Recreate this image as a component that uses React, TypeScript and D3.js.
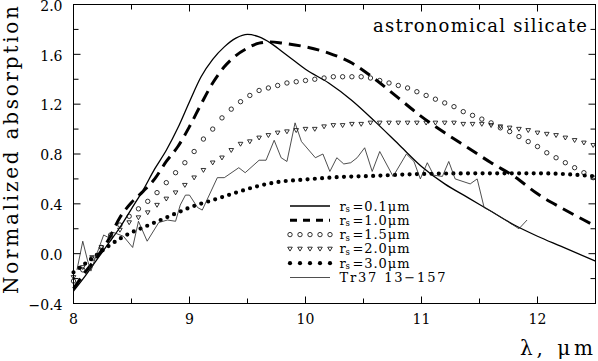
import React from "react";
import * as d3 from "d3";

// wavelength grid of the model markers (um)
const markerLambda = [
  8.0, 8.08, 8.16, 8.24, 8.32, 8.4, 8.48, 8.56, 8.64, 8.72, 8.8, 8.88, 8.96, 9.04, 9.12,
  9.2, 9.28, 9.36, 9.44, 9.52, 9.6, 9.68, 9.76, 9.84, 9.92, 10.0, 10.08, 10.16, 10.24,
  10.32, 10.4, 10.48, 10.56, 10.64, 10.72, 10.8, 10.88, 10.96, 11.04, 11.12, 11.2, 11.28,
  11.36, 11.44, 11.52, 11.6, 11.68, 11.76, 11.84, 11.92, 12.0, 12.08, 12.16, 12.24, 12.32,
  12.4, 12.48,
];

// rs = 1.5 um (open circles)
const r15 = [
  -0.22, -0.13, -0.04, 0.05, 0.15, 0.23, 0.3, 0.36, 0.42, 0.49, 0.57, 0.65, 0.73, 0.82,
  0.92, 1.0, 1.09, 1.16, 1.22, 1.27, 1.31, 1.33, 1.35, 1.37, 1.38, 1.39, 1.4, 1.41, 1.42,
  1.42, 1.42, 1.42, 1.41, 1.39, 1.37, 1.35, 1.33, 1.3, 1.27, 1.24, 1.21, 1.18, 1.14, 1.11,
  1.08, 1.05, 1.01, 0.98, 0.94, 0.9, 0.86, 0.81, 0.77, 0.73, 0.69, 0.65, 0.61,
];

// rs = 2.0 um (open triangles)
const r20 = [
  -0.19, -0.11, -0.03, 0.05, 0.12, 0.19, 0.25, 0.29, 0.33, 0.39, 0.44, 0.49, 0.55, 0.61,
  0.67, 0.73, 0.77, 0.83, 0.88, 0.9, 0.93, 0.95, 0.97, 0.98, 0.99, 1.0, 1.0, 1.02, 1.03,
  1.03, 1.04, 1.04, 1.05, 1.05, 1.05, 1.05, 1.05, 1.05, 1.05, 1.05, 1.05, 1.05, 1.04, 1.04,
  1.04, 1.03, 1.02, 1.01, 1.0, 0.99, 0.97, 0.96, 0.95, 0.93, 0.91, 0.89, 0.87,
];

// rs = 0.1 um (solid)
const r01Lambda = [
  8.0, 8.1, 8.2, 8.3, 8.4, 8.5, 8.6, 8.7, 8.8, 8.9, 9.0, 9.1, 9.2, 9.3, 9.4, 9.5, 9.6, 9.7,
  9.8, 9.9, 10.0, 10.2, 10.4, 10.6, 10.8, 11.0, 11.2, 11.4, 11.6, 11.8, 12.0, 12.2, 12.5,
];
const r01 = [
  -0.3, -0.18, -0.05, 0.08, 0.21, 0.36, 0.51, 0.68, 0.83, 1.01, 1.22, 1.42, 1.56, 1.66,
  1.73, 1.76, 1.74, 1.69, 1.62, 1.55, 1.48, 1.37, 1.23, 1.06, 0.88, 0.7, 0.56, 0.45, 0.34,
  0.23, 0.14, 0.06, -0.06,
];

// rs = 1.0 um (dashed)
const r10Lambda = [
  8.0, 8.1, 8.2, 8.3, 8.4, 8.5, 8.6, 8.7, 8.8, 8.9, 9.0, 9.1, 9.2, 9.3, 9.4, 9.5, 9.6, 9.7,
  9.8, 10.0, 10.2, 10.4, 10.6, 10.8, 11.0, 11.2, 11.4, 11.6, 11.8, 12.0, 12.2, 12.4, 12.5,
];
const r10 = [
  -0.28, -0.15, -0.03, 0.11, 0.29, 0.41, 0.5, 0.6, 0.74, 0.86, 1.02, 1.2, 1.37, 1.5, 1.59,
  1.65, 1.69, 1.7, 1.69, 1.66, 1.61, 1.53, 1.4, 1.25, 1.1, 0.97, 0.85, 0.73, 0.62, 0.48,
  0.37, 0.27, 0.22,
];

// rs = 3.0 um (dotted)
const r30Lambda = [
  8.0, 8.1, 8.2, 8.3, 8.4, 8.5, 8.6, 8.7, 8.8, 8.9, 9.0, 9.2, 9.4, 9.6, 9.8, 10.0, 10.2,
  10.6, 11.0, 11.5, 12.0, 12.3, 12.5,
];
const r30 = [
  -0.15, -0.08, -0.01, 0.06, 0.12, 0.17, 0.21, 0.25, 0.29, 0.33, 0.37, 0.43, 0.49, 0.545,
  0.58, 0.595, 0.61, 0.625, 0.64, 0.645, 0.645, 0.635, 0.62,
];

// Tr37 13-157 observed spectrum
const trLambda = [
  8.03, 8.08, 8.12, 8.15, 8.19, 8.26, 8.3, 8.345, 8.43, 8.51, 8.56, 8.635, 8.735, 8.81,
  8.88, 8.92, 8.965, 9.0, 9.07, 9.11, 9.24, 9.3, 9.425, 9.48, 9.6, 9.66, 9.73, 9.79, 9.84,
  9.91, 9.965, 10.085, 10.15, 10.21, 10.27, 10.33, 10.39, 10.445, 10.51, 10.575, 10.64,
  10.755, 10.87, 10.935, 10.99, 11.05, 11.105, 11.18, 11.235, 11.29, 11.42, 11.48, 11.54,
  11.62, 11.74, 11.84, 11.91,
];
const trValue = [
  -0.13, 0.1, -0.05, -0.14, -0.03, 0.15, 0.13, 0.17, 0.14, 0.05, 0.26, 0.1, 0.25, 0.27,
  0.26, 0.39, 0.47, 0.47, 0.37, 0.35, 0.61, 0.61, 0.69, 0.65, 0.75, 0.75, 0.91, 0.77, 0.74,
  1.05, 0.9, 0.77, 0.8, 0.66, 0.77, 0.72, 0.73, 0.77, 0.85, 0.66, 0.82, 0.62, 0.8, 0.74,
  0.6, 0.73, 0.63, 0.62, 0.74, 0.6, 0.56, 0.6, 0.37, 0.33, 0.26, 0.2, 0.27,
];

const xMajor = [8, 9, 10, 11, 12];
const yMajor = [-0.4, 0.0, 0.4, 0.8, 1.2, 1.6, 2.0];
const legendLabels = ["0.1", "1.0", "1.5", "2.0", "3.0"];

const W = 598;
const H = 361;
const FONT = "DejaVu Serif, Liberation Serif, serif";
const txt = { fontFamily: FONT };

const x = d3.scaleLinear().domain([8, 12.5]).range([73.5, 595.5]);
const y = d3.scaleLinear().domain([-0.4, 2.0]).range([303.5, 4.5]);

const zip = (xs: number[], ys: number[]) => xs.map((v, i) => [v, ys[i]] as [number, number]);

const smooth = d3
  .line<[number, number]>()
  .x((d) => x(d[0]))
  .y((d) => y(d[1]))
  .curve(d3.curveMonotoneX);
const jagged = d3
  .line<[number, number]>()
  .x((d) => x(d[0]))
  .y((d) => y(d[1]));

function Triangle({ cx, cy }: { cx: number; cy: number }) {
  const s = 2.3;
  return (
    <path
      d={`M${cx - s},${cy - s * 0.75}L${cx + s},${cy - s * 0.75}L${cx},${cy + s * 0.95}Z`}
      fill="none"
      stroke="#000"
      strokeWidth={0.8}
    />
  );
}

export default function App() {
  const xMinor = d3.range(8, 12.51, 0.5);
  const yMinor = d3.range(-0.4, 2.01, 0.2);
  const fmt = d3.format(".1f");
  const [x0, x1] = x.range();
  const [y0, y1] = y.range();

  const legendY = [206, 220.3, 234.6, 248.9, 263.2, 277.5];
  const lx0 = 290;
  const lx1 = 330;
  const legendDots = [0, 1, 2, 3, 4].map((i) => lx0 + i * 10);

  return (
    <svg
      width={W}
      height={H}
      style={{ position: "absolute", left: 0, top: 0, background: "#fff", fontFamily: FONT }}
    >
      {/* frame */}
      <rect x={x0} y={y1} width={x1 - x0} height={y0 - y1} fill="none" stroke="#000" strokeWidth={1} />

      {/* x ticks, bottom and top */}
      {xMinor.map((v) => {
        const major = Math.abs(v - Math.round(v)) < 1e-6;
        const len = major ? 7 : 5;
        return (
          <g key={"xt" + v}>
            <line x1={x(v)} x2={x(v)} y1={y0} y2={y0 - len} stroke="#000" />
            <line x1={x(v)} x2={x(v)} y1={y1} y2={y1 + len} stroke="#000" />
          </g>
        );
      })}
      {/* y ticks, left and right */}
      {yMinor.map((v) => {
        const major = yMajor.some((m) => Math.abs(m - v) < 1e-6);
        const len = major ? 7 : 5;
        return (
          <g key={"yt" + v}>
            <line x1={x0} x2={x0 + len} y1={y(v)} y2={y(v)} stroke="#000" />
            <line x1={x1} x2={x1 - len} y1={y(v)} y2={y(v)} stroke="#000" />
          </g>
        );
      })}

      {xMajor.map((v) => (
        <text key={"xl" + v} x={x(v)} y={324} fontSize={14} textAnchor="middle" style={txt}>
          {v}
        </text>
      ))}
      {yMajor.map((v) => (
        <text key={"yl" + v} x={62.5} y={y(v) + 6.2} fontSize={14} textAnchor="end" style={txt}>
          {fmt(v)}
        </text>
      ))}

      <text
        transform="translate(18,150) rotate(-90)"
        fontSize={20}
        textAnchor="middle"
        textLength={288}
        lengthAdjust="spacing"
        style={txt}
      >
        Normalized absorption
      </text>
      <text x={520} y={355} fontSize={20} textLength={73} lengthAdjust="spacing" style={txt}>
        λ, μm
      </text>
      <text x={373} y={31.7} fontSize={18} textLength={214} lengthAdjust="spacing" style={txt}>
        astronomical silicate
      </text>

      {/* model curves */}
      <path d={smooth(zip(r01Lambda, r01)) || ""} fill="none" stroke="#000" strokeWidth={1.3} />
      <path
        d={smooth(zip(r10Lambda, r10)) || ""}
        fill="none"
        stroke="#000"
        strokeWidth={3}
        strokeDasharray="12 7"
      />
      <path
        d={smooth(zip(r30Lambda, r30)) || ""}
        fill="none"
        stroke="#000"
        strokeWidth={4.2}
        strokeLinecap="round"
        strokeDasharray="0 7.3"
      />
      {markerLambda.map((l, i) => (
        <circle key={"c" + i} cx={x(l)} cy={y(r15[i])} r={2.2} fill="none" stroke="#000" strokeWidth={0.8} />
      ))}
      {markerLambda.map((l, i) => (
        <Triangle key={"t" + i} cx={x(l)} cy={y(r20[i])} />
      ))}
      <path d={jagged(zip(trLambda, trValue)) || ""} fill="none" stroke="#222" strokeWidth={0.8} />

      {/* legend */}
      <line x1={lx0} x2={lx1} y1={legendY[0]} y2={legendY[0]} stroke="#000" strokeWidth={1.3} />
      <line
        x1={lx0}
        x2={lx1}
        y1={legendY[1]}
        y2={legendY[1]}
        stroke="#000"
        strokeWidth={3}
        strokeDasharray="7 6"
      />
      {legendDots.map((lx, i) => (
        <circle key={"lc" + i} cx={lx} cy={legendY[2]} r={2.2} fill="none" stroke="#000" strokeWidth={0.8} />
      ))}
      {legendDots.map((lx, i) => (
        <Triangle key={"lt" + i} cx={lx} cy={legendY[3]} />
      ))}
      {legendDots.map((lx, i) => (
        <circle key={"ld" + i} cx={lx} cy={legendY[4]} r={2.1} fill="#000" />
      ))}
      <line x1={lx0} x2={lx1} y1={legendY[5]} y2={legendY[5]} stroke="#222" strokeWidth={0.8} />

      {legendLabels.map((lab, i) => (
        <g key={"lg" + lab}>
          <text x={339.5} y={legendY[i] + 4.5} fontSize={13} style={txt}>
            r
          </text>
          <text x={345.5} y={legendY[i] + 6} fontSize={8.5} style={txt}>
            s
          </text>
          <text
            x={352.5}
            y={legendY[i] + 4.5}
            fontSize={13}
            textLength={57}
            lengthAdjust="spacing"
            style={txt}
          >
            ={lab}μm
          </text>
        </g>
      ))}
      <text
        x={339.5}
        y={legendY[5] + 4.5}
        fontSize={13}
        textLength={106}
        lengthAdjust="spacing"
        style={txt}
      >
        Tr37  13−157
      </text>
    </svg>
  );
}
